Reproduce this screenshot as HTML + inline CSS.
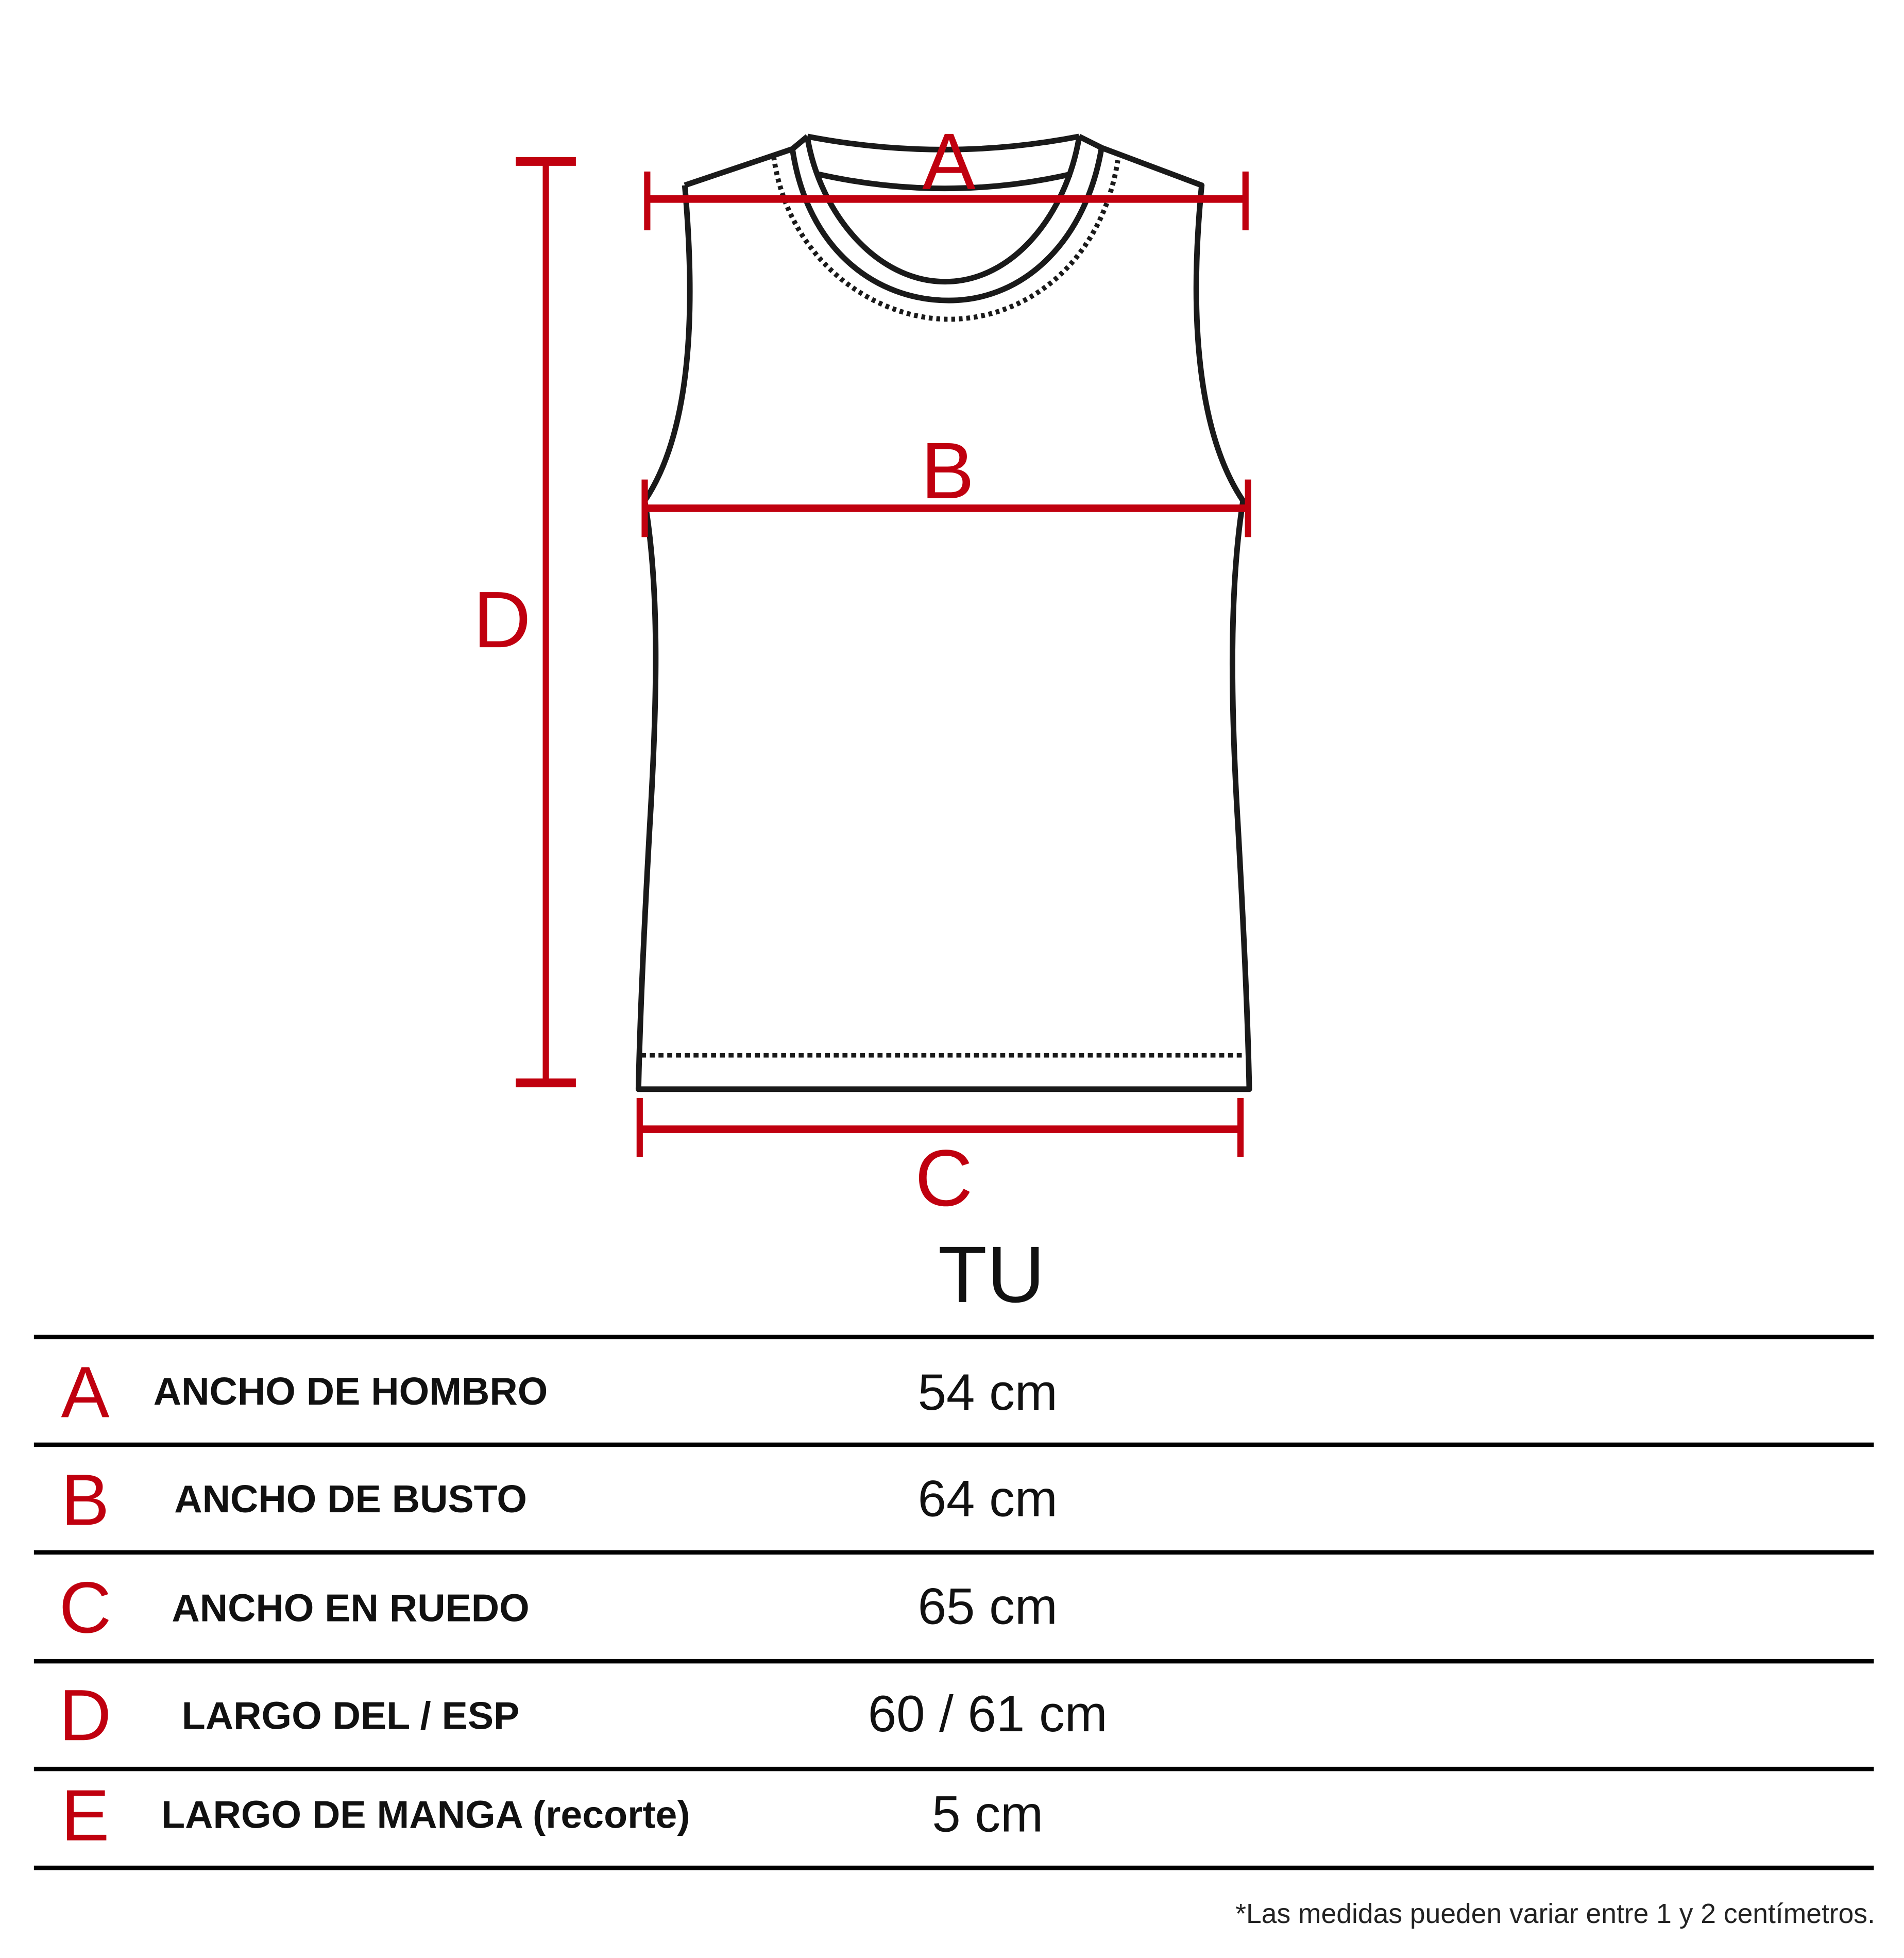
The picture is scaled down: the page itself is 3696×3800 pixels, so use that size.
<!DOCTYPE html>
<html><head><meta charset="utf-8"><style>
html,body{margin:0;padding:0;background:#fff;}
svg{display:block;}
</style></head><body>
<svg width="3696" height="3800" viewBox="0 0 1521 1564" xmlns="http://www.w3.org/2000/svg">
<rect width="1521" height="1564" fill="#fff"/>
<g fill="none" stroke="#1a1a1a" stroke-width="4.5" stroke-linejoin="round">
<path d="M547,148 C556,250 552,345 515,400 C527,470 525,560 519,660 C514,750 511,820 510,870 L998,870 C997,820 994,750 989,660 C983,560 982,470 993,400 C956,345 950,250 960,148 L880,118"/>
<path d="M547,148 L633,119"/>
<path d="M645,109 Q754,130 862,109"/>
<path d="M653,139 Q755,162 856,139"/>
<path d="M645,110 C655,170 700,225 755,225 C810,225 852,170 862,110"/>
<path d="M633,119 C645,200 700,240 758,240 C820,240 868,190 880,118"/>
<path d="M645,109 L633,119 M862,109 L880,118"/>
<path d="M618,125 C630,210 700,255 758,255 C820,255 880,210 893,128" stroke-dasharray="3,3" stroke-width="4"/>
<path d="M512,843 L995,843" stroke-dasharray="4,3" stroke-width="3.5"/>
</g>
<g stroke="#c0000f" stroke-width="5" fill="none">
<path d="M436,129 L436,865"/>
<path d="M412,129 L460,129 M412,865 L460,865" stroke-width="7"/>
<path d="M517,159 L995,159" stroke-width="6"/>
<path d="M517,137 L517,184 M995,137 L995,184"/>
<path d="M515,406 L997,406" stroke-width="6"/>
<path d="M515,383 L515,429 M997,383 L997,429"/>
<path d="M511,902 L991,902" stroke-width="6"/>
<path d="M511,877 L511,924 M991,877 L991,924"/>
</g>
<g fill="#c0000f" font-family="Liberation Sans, sans-serif" text-anchor="middle">
<text x="758" y="151" font-size="64">A</text>
<text x="757" y="398" font-size="64">B</text>
<text x="754" y="963" font-size="64">C</text>
<text x="401" y="517" font-size="64">D</text>
</g>
<text x="792" y="1040" font-size="64" font-family="Liberation Sans, sans-serif" text-anchor="middle" fill="#111">TU</text>
<g stroke="#000" stroke-width="3.5">
<path d="M27,1068 L1497,1068 M27,1154 L1497,1154 M27,1240 L1497,1240 M27,1327 L1497,1327 M27,1413 L1497,1413 M27,1492 L1497,1492"/>
</g>
<g fill="#c0000f" font-family="Liberation Sans, sans-serif" font-size="58" text-anchor="middle">
<text x="68" y="1132">A</text>
<text x="68" y="1218">B</text>
<text x="68" y="1304">C</text>
<text x="68" y="1390">D</text>
<text x="68" y="1470">E</text>
</g>
<g fill="#111" font-family="Liberation Sans, sans-serif" font-size="31" font-weight="bold" text-anchor="middle">
<text x="280" y="1122">ANCHO DE HOMBRO</text>
<text x="280" y="1208">ANCHO DE BUSTO</text>
<text x="280" y="1295">ANCHO EN RUEDO</text>
<text x="280" y="1381">LARGO DEL / ESP</text>
<text x="340" y="1460">LARGO DE MANGA (recorte)</text>
</g>
<g fill="#111" font-family="Liberation Sans, sans-serif" font-size="41" text-anchor="middle">
<text x="789" y="1126">54 cm</text>
<text x="789" y="1211">64 cm</text>
<text x="789" y="1297">65 cm</text>
<text x="789" y="1383">60 / 61 cm</text>
<text x="789" y="1463">5 cm</text>
</g>
<text x="1498" y="1536" font-size="22" font-family="Liberation Sans, sans-serif" text-anchor="end" fill="#222">*Las medidas pueden variar entre 1 y 2 centímetros.</text>
</svg>
</body></html>
